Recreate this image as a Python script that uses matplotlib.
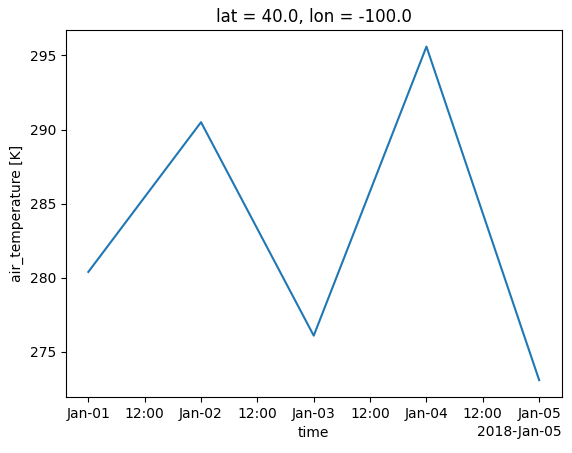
import matplotlib
matplotlib.use("Agg")
import matplotlib.pyplot as plt
import matplotlib.dates as mdates
import numpy as np

times = np.array(["2018-01-01", "2018-01-02", "2018-01-03", "2018-01-04", "2018-01-05"], dtype="datetime64[D]")
air_temperature = [280.4, 290.5, 276.1, 295.6, 273.1]

fig = plt.figure(figsize=(5.72, 4.53), dpi=100)
ax = fig.add_axes([0.115, 0.124, 0.867, 0.81])
ax.plot(times, air_temperature)

locator = mdates.HourLocator(byhour=[0, 12])
ax.xaxis.set_major_locator(locator)
ax.xaxis.set_major_formatter(mdates.ConciseDateFormatter(locator))

ax.set_xlabel("time")
ax.set_ylabel("air_temperature [K]")
ax.set_title("lat = 40.0, lon = -100.0")

fig.savefig("out.png", dpi=100)
